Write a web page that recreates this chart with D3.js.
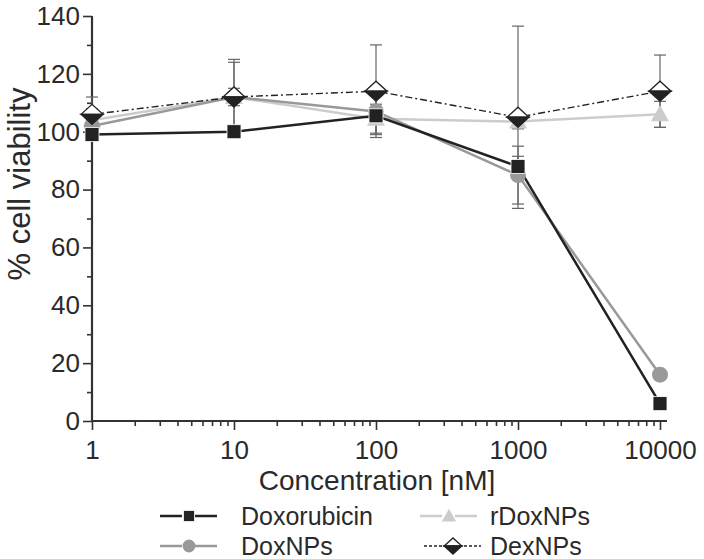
<!DOCTYPE html>
<html>
<head>
<meta charset="utf-8">
<script src="https://cdn.jsdelivr.net/npm/d3@7"></script>
<style>
  body { margin: 0; background: #fff; }
  text { font-family: "Liberation Sans", Arial, sans-serif; fill: #2a2a2a; }
</style>
</head>
<body>
<div id="chart"></div>
<script>
const concentrations = [1, 10, 100, 1000, 10000];
const doxorubicin = [99, 100, 105.5, 88, 6];
const doxorubicinErr = [2, 1.5, 2, 3.5, 1];
const doxNPs = [102, 112, 107, 85, 16];
const doxNPsErr = [4, 13, 8, 10, 1.5];
const rDoxNPs = [104, 112, 104.5, 103.5, 106];
const rDoxNPsErr = [4, 12, 5, 2.5, 4.5];
const dexNPs = [106, 112, 114, 105, 114];
const dexNPsErr = [6, 3, 16, 31.5, 12.5];
const yTicks = [0, 20, 40, 60, 80, 100, 120, 140];
const xTickLabels = ["1", "10", "100", "1000", "10000"];

const width = 704, height = 559;
const margin = { top: 16, left: 92, right: 44, bottom: 138 };

const svg = d3.select("#chart").append("svg")
  .attr("width", width).attr("height", height);

const x = d3.scaleLog().domain([1, 10000]).range([margin.left, width - margin.right]);
const y = d3.scaleLinear().domain([0, 140]).range([height - margin.bottom, margin.top]);

const series = [
  { name: "rDoxNPs", values: rDoxNPs, err: rDoxNPsErr, color: "#cccccc", width: 2.5, dash: null, marker: "triangle" },
  { name: "DoxNPs", values: doxNPs, err: doxNPsErr, color: "#999999", width: 2.5, dash: null, marker: "circle" },
  { name: "Doxorubicin", values: doxorubicin, err: doxorubicinErr, color: "#222222", width: 2.5, dash: null, marker: "square" },
  { name: "DexNPs", values: dexNPs, err: dexNPsErr, color: "#222222", width: 1.4, dash: "7,3,2,3", marker: "diamond" }
];

// axes
const axisColor = "#333";
const minorX = [];
for (let d = 1; d < 10000; d *= 10) for (let k = 2; k <= 9; k++) minorX.push(d * k);

const xAxisG = svg.append("g").attr("transform", `translate(0,${y(0)})`);
xAxisG.call(d3.axisBottom(x).tickValues(concentrations).tickSize(9).tickFormat((d, i) => xTickLabels[i]));
xAxisG.append("g").call(d3.axisBottom(x).tickValues(minorX).tickSize(5).tickFormat(""));
xAxisG.selectAll(".domain").remove();
xAxisG.append("line").attr("x1", x(1) - 1).attr("x2", x(10000) + 7).attr("stroke", axisColor).attr("stroke-width", 2.2);
xAxisG.selectAll(".tick line").attr("stroke", axisColor).attr("stroke-width", 1.6);
xAxisG.selectAll(".tick text").attr("dy", "1.0em").style("font-size", "26px");

const yAxisG = svg.append("g").attr("transform", `translate(${x(1)},0)`);
yAxisG.call(d3.axisLeft(y).tickValues(yTicks).tickSize(9));
yAxisG.append("g").call(d3.axisLeft(y).tickValues(d3.range(10, 140, 20)).tickSize(5).tickFormat(""));
yAxisG.selectAll(".domain").remove();
yAxisG.append("line").attr("y1", y(0) + 1).attr("y2", y(140)).attr("stroke", axisColor).attr("stroke-width", 2.2);
yAxisG.selectAll(".tick line").attr("stroke", axisColor).attr("stroke-width", 1.6);
yAxisG.selectAll(".tick text").attr("x", -12).style("font-size", "26px");

svg.append("text")
  .attr("x", (x(1) + x(10000)) / 2 + 1).attr("y", 490)
  .attr("text-anchor", "middle").style("font-size", "28px")
  .text("Concentration [nM]");

svg.append("text")
  .attr("transform", `translate(30,184) rotate(-90)`)
  .attr("text-anchor", "middle").style("font-size", "31px")
  .text("% cell viability");

// error bars
const errG = svg.append("g");
series.forEach(s => {
  s.values.forEach((v, i) => {
    const cx = x(concentrations[i]);
    errG.append("line").attr("x1", cx).attr("x2", cx)
      .attr("y1", y(v - s.err[i])).attr("y2", y(v + s.err[i]))
      .attr("stroke", "#666").attr("stroke-width", 1.2);
    [v - s.err[i], v + s.err[i]].forEach(e => {
      errG.append("line").attr("x1", cx - 6).attr("x2", cx + 6)
        .attr("y1", y(e)).attr("y2", y(e))
        .attr("stroke", "#666").attr("stroke-width", 1.2);
    });
  });
});

// lines
const line = d3.line().x((d, i) => x(concentrations[i])).y(d => y(d));
series.forEach(s => {
  svg.append("path").datum(s.values)
    .attr("d", line).attr("fill", "none")
    .attr("stroke", s.color).attr("stroke-width", s.width)
    .attr("stroke-dasharray", s.dash);
});

function drawMarker(g, type, cx, cy, color, k) {
  k = k || 1;
  if (type === "square") {
    g.append("rect").attr("x", cx - 7 * k).attr("y", cy - 7 * k).attr("width", 14 * k).attr("height", 14 * k)
      .attr("fill", color).attr("stroke", "#fff").attr("stroke-width", 0.8);
  } else if (type === "circle") {
    g.append("circle").attr("cx", cx).attr("cy", cy).attr("r", 8 * k).attr("fill", color);
  } else if (type === "triangle") {
    g.append("path").attr("d", `M${cx},${cy - 9 * k}L${cx + 9 * k},${cy + 7 * k}L${cx - 9 * k},${cy + 7 * k}Z`).attr("fill", color);
  } else if (type === "diamond") {
    g.append("path").attr("d", `M${cx - 11 * k},${cy}L${cx},${cy - 10 * k}L${cx + 11 * k},${cy}Z`)
      .attr("fill", "#fff").attr("stroke", "#222").attr("stroke-width", 1.3);
    g.append("path").attr("d", `M${cx - 11 * k},${cy}L${cx},${cy + 10 * k}L${cx + 11 * k},${cy}Z`)
      .attr("fill", "#222").attr("stroke", "#222").attr("stroke-width", 1.3);
  }
}

const markG = svg.append("g");
series.forEach(s => {
  s.values.forEach((v, i) => drawMarker(markG, s.marker, x(concentrations[i]), y(v), s.color));
});

// legend
const legendItems = [
  { s: series[2], lx: 160, tx: 241, ty: 516 },
  { s: series[0], lx: 420, tx: 490, ty: 516 },
  { s: series[1], lx: 160, tx: 241, ty: 546 },
  { s: series[3], lx: 424, tx: 490, ty: 546 }
];
const legG = svg.append("g");
legendItems.forEach(it => {
  const ly = it.ty;
  legG.append("line").attr("x1", it.lx).attr("x2", it.lx + 57)
    .attr("y1", ly).attr("y2", ly)
    .attr("stroke", it.s.color).attr("stroke-width", it.s.width)
    .attr("stroke-dasharray", it.s.dash ? "3,2" : "22,13");
  drawMarker(legG, it.s.marker, it.lx + 29, ly, it.s.color, 0.8);
  legG.append("text").attr("x", it.tx).attr("y", ly + 9)
    .style("font-size", "25px").text(it.s.name);
});
</script>
</body>
</html>
